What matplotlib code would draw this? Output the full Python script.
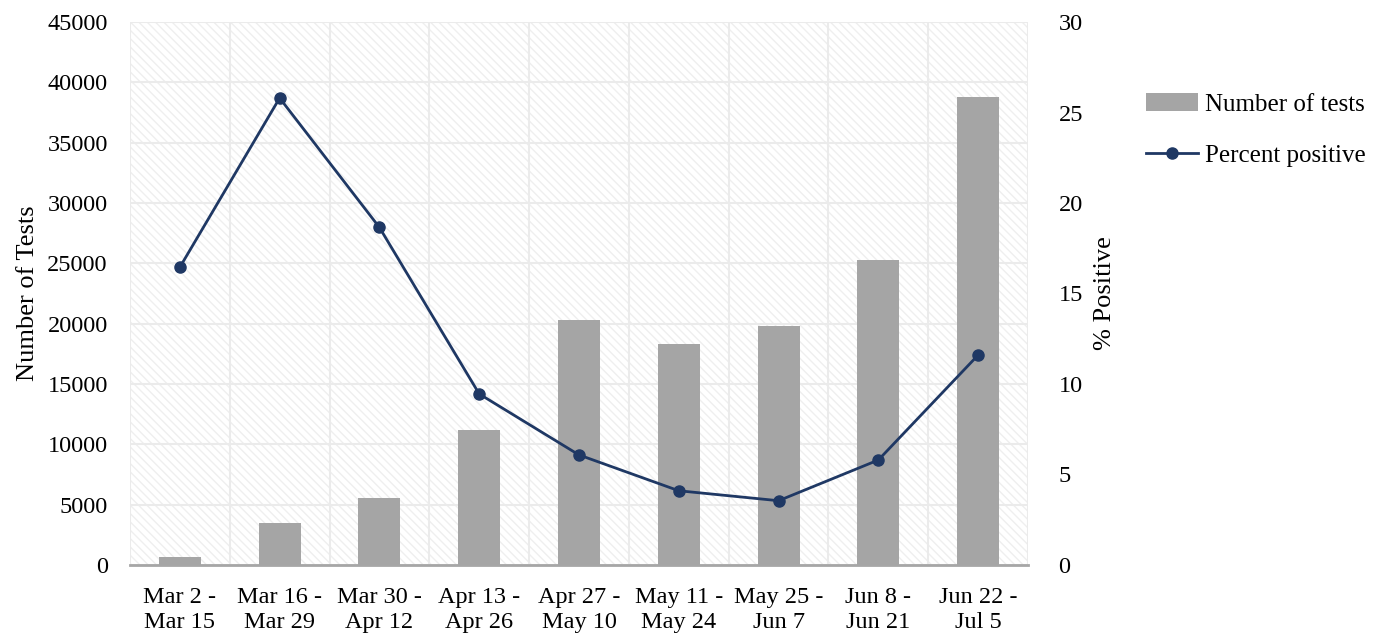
import matplotlib.pyplot as plt
import numpy as np
from matplotlib.patches import Rectangle

periods = ["Mar 2 -\nMar 15", "Mar 16 -\nMar 29", "Mar 30 -\nApr 12", "Apr 13 -\nApr 26",
           "Apr 27 -\nMay 10", "May 11 -\nMay 24", "May 25 -\nJun 7", "Jun 8 -\nJun 21",
           "Jun 22 -\nJul 5"]
num_tests = [660, 3480, 5550, 11190, 20300, 18300, 19800, 25280, 38780]
pct_positive = [16.45, 25.8, 18.65, 9.45, 6.08, 4.1, 3.55, 5.8, 11.6]

plt.rcParams["font.family"] = ["Liberation Serif", "DejaVu Serif"]
plt.rcParams["font.size"] = 17.5

fig = plt.figure(figsize=(13.87, 6.42), dpi=100)
ax = fig.add_axes([0.0937, 0.12, 0.6475, 0.8457])
ax2 = ax.twinx()

x = np.arange(len(periods))

# faint diagonal hatch in the plot area
ax.add_patch(Rectangle((0, 0), 1, 1, transform=ax.transAxes, facecolor="white",
                       edgecolor="#EFEFEF", hatch="\\\\\\\\", lw=0, zorder=0))

ax.bar(x, num_tests, width=0.42, color="#A5A5A5", zorder=3, label="Number of tests")
ax2.plot(x, pct_positive, color="#1F3864", lw=2, marker="o", ms=8,
         label="Percent positive", zorder=4)

ax.set_xlim(-0.5, len(periods) - 0.5)
ax.set_ylim(0, 45000)
ax.set_yticks(np.arange(0, 45001, 5000))
ax2.set_ylim(0, 30)
ax2.set_yticks(np.arange(0, 31, 5))

ax.set_xticks(x)
ax.set_xticklabels(periods, linespacing=1.25)
for b in np.arange(-0.5, len(periods), 1.0):
    ax.axvline(b, color="#EBEBEB", lw=1.5, zorder=1)
ax.yaxis.grid(True, color="#EBEBEB", lw=1.5, zorder=1)
ax.set_axisbelow(True)

for a in (ax, ax2):
    for s in a.spines.values():
        s.set_visible(False)
    a.tick_params(length=0)
ax.spines["bottom"].set_visible(True)
ax.spines["bottom"].set_color("#A6A6A6")
ax.spines["bottom"].set_linewidth(2)
ax.spines["bottom"].set_zorder(5)
ax.tick_params(axis="y", pad=16)
ax.tick_params(axis="x", pad=16)
ax2.tick_params(axis="y", pad=22)

ax.set_ylabel("Number of Tests", fontsize=19, labelpad=6)
ax2.set_ylabel("% Positive", fontsize=19, labelpad=8)

h1, l1 = ax.get_legend_handles_labels()
h2, l2 = ax2.get_legend_handles_labels()
fig.legend(h1 + h2, l1 + l2, loc="upper left", bbox_to_anchor=(0.81, 0.89),
           frameon=False, handlelength=2.1, handletextpad=0.25, labelspacing=1.15,
           fontsize=18)

fig.savefig("out.png", dpi=100)
